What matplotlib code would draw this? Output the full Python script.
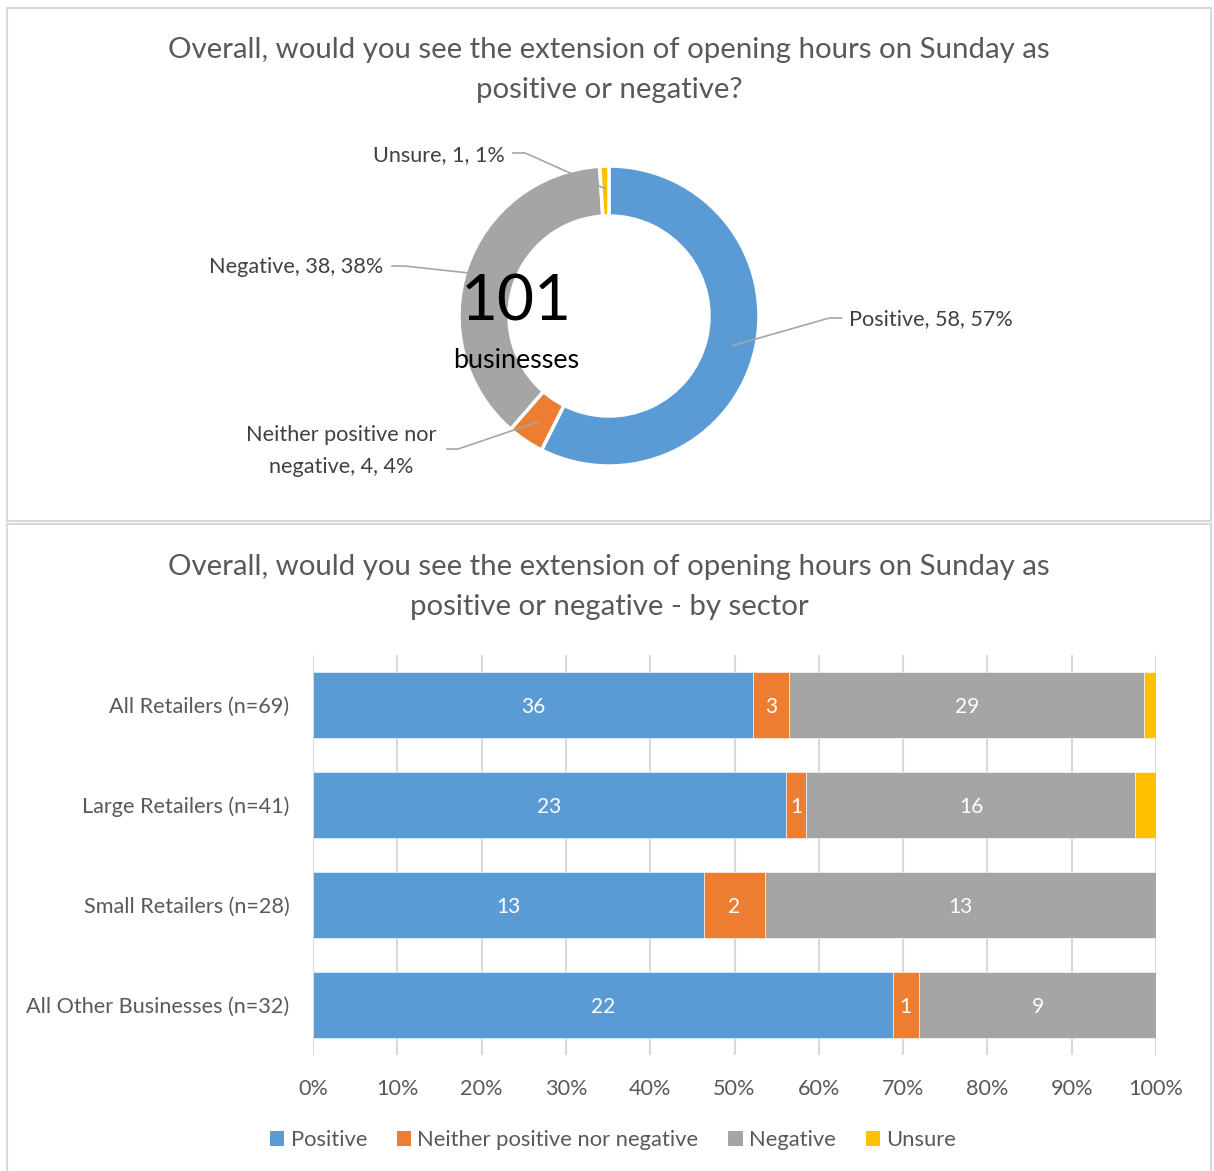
import numpy as np
import matplotlib.pyplot as plt
from matplotlib.patches import Rectangle, Patch

plt.rcParams['font.family'] = ['Lato', 'DejaVu Sans']

W, H = 1214, 1171

# donut data
donut_labels = ["Positive", "Neither positive nor\nnegative", "Negative", "Unsure"]
donut_counts = [58, 4, 38, 1]
donut_pct = ["57%", "4%", "38%", "1%"]

# bar data
sectors = ["All Retailers (n=69)", "Large Retailers (n=41)",
           "Small Retailers (n=28)", "All Other Businesses (n=32)"]
series = ["Positive", "Neither positive nor negative", "Negative", "Unsure"]
positive = [36, 23, 13, 22]
neither = [3, 1, 2, 1]
negative = [29, 16, 13, 9]
unsure = [1, 1, 0, 0]
xticks = ["0%", "10%", "20%", "30%", "40%", "50%", "60%", "70%", "80%", "90%", "100%"]

colors = ["#5B9BD5", "#ED7D31", "#A5A5A5", "#FFC000"]
GRAY = "#595959"
DARK = "#404040"


def fx(x):
    return x / W


def fy(y):
    return 1 - y / H


fig = plt.figure(figsize=(W / 100, H / 100), dpi=100)

# panel borders
for (x0, y0, x1, y1) in [(7, 8, 1211, 521), (7, 524, 1211, 1175)]:
    fig.add_artist(Rectangle((fx(x0), fy(y1)), fx(x1) - fx(x0), fy(y0) - fy(y1),
                             transform=fig.transFigure, fill=False,
                             edgecolor="#D9D9D9", linewidth=1.5))

fig.text(fx(609), fy(70), "Overall, would you see the extension of opening hours on Sunday as\npositive or negative?",
         ha="center", va="center", fontsize=21.2, color=GRAY, linespacing=1.7)
fig.text(fx(609), fy(587), "Overall, would you see the extension of opening hours on Sunday as\npositive or negative - by sector",
         ha="center", va="center", fontsize=21.2, color=GRAY, linespacing=1.7)

# ---- donut ----
cx, cy, half = 609, 316, 200
ax1 = fig.add_axes([fx(cx - half), fy(cy + half), 2 * half / W, 2 * half / H])
ax1.pie(donut_counts, colors=colors, startangle=90, counterclock=False, radius=1,
        wedgeprops=dict(width=1 / 3, edgecolor="white", linewidth=2.5))
ax1.set_xlim(-half / 150, half / 150)
ax1.set_ylim(-half / 150, half / 150)
ax1.set_aspect("auto")
ax1.axis("off")

total = sum(donut_counts)
cum = np.cumsum([0] + donut_counts)
mids = [90 - (cum[i] + cum[i + 1]) / 2 / total * 360 for i in range(len(donut_counts))]

# label position, elbow, line end, text alignment
label_pos = [((1.6, -0.02), (1.47, -0.013), (1.55, -0.013), "left"),
             ((-1.787, -0.9), (-1.007, -0.887), (-1.08, -0.887), "center"),
             ((-1.507, 0.327), (-1.36, 0.333), (-1.447, 0.333), "right"),
             ((-0.693, 1.073), (-0.56, 1.087), (-0.64, 1.087), "right")]
for i, (lab, n, p) in enumerate(zip(donut_labels, donut_counts, donut_pct)):
    a = np.deg2rad(mids[i])
    r = 0.85
    sx, sy = r * np.cos(a), r * np.sin(a)
    (tx, ty), (ex, ey), (lx, ly), ha = label_pos[i]
    ax1.plot([sx, ex, lx], [sy, ey, ly], color="#A6A6A6", lw=1.2, clip_on=False)
    ax1.text(tx, ty, f"{lab}, {n}, {p}", ha=ha, va="center", fontsize=15.6,
             color=DARK, linespacing=1.73, clip_on=False)

ax1.text(-0.62, 0.087, str(total), ha="center", va="center", fontsize=46, color="black")
ax1.text(-0.62, -0.3, "businesses", ha="center", va="center", fontsize=19.4, color="black")

# ---- bars ----
ax2 = fig.add_axes([fx(313), fy(1055), fx(1156) - fx(313), (1055 - 655) / H])
data = np.array([positive, neither, negative, unsure], dtype=float)
totals = data.sum(axis=0)
shares = data / totals
y = np.arange(len(sectors))
left = np.zeros(len(sectors))
for k in range(len(series)):
    ax2.barh(y, shares[k], left=left, height=0.66, color=colors[k], label=series[k],
             edgecolor="white", linewidth=0.4, zorder=2)
    if k < 3:
        for j in range(len(sectors)):
            if data[k, j] > 0:
                ax2.text(left[j] + shares[k, j] / 2, y[j] + 0.02, f"{int(data[k, j])}",
                         ha="center", va="center", color="white", fontsize=15, zorder=3)
    left += shares[k]

ax2.set_xlim(0, 1)
ax2.set_ylim(3.5, -0.5)
ax2.set_xticks(np.linspace(0, 1, 11))
ax2.set_xticklabels(xticks)
ax2.set_yticks(y)
ax2.set_yticklabels(sectors)
ax2.tick_params(axis="both", length=0, labelsize=15.6, colors=GRAY)
ax2.tick_params(axis="x", pad=17)
ax2.tick_params(axis="y", pad=17)
ax2.grid(axis="x", color="#D9D9D9", linewidth=1.5, zorder=0)
for s in ax2.spines.values():
    s.set_visible(False)

handles = [Patch(facecolor=c, label=s) for c, s in zip(colors, series)]
fig.legend(handles=handles, loc="center", bbox_to_anchor=(fx(613), fy(1140)), ncol=4,
           frameon=False, fontsize=15.8, labelcolor=GRAY, handlelength=0.65, handleheight=0.65,
           handletextpad=0.3, columnspacing=1.35)

fig.savefig("out.png", dpi=100)
